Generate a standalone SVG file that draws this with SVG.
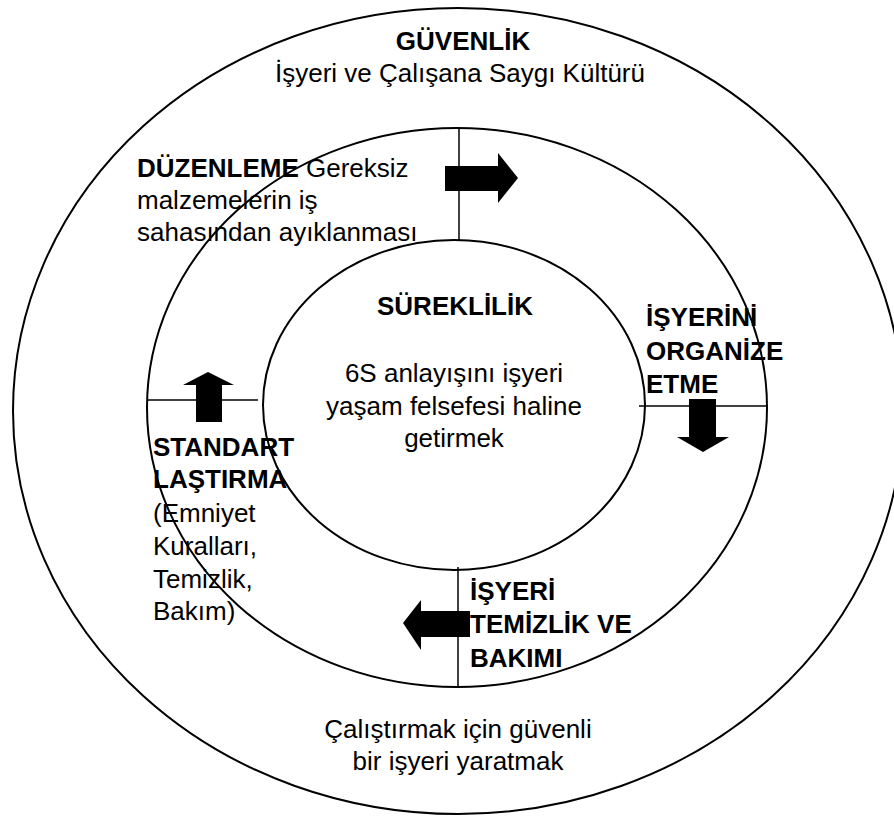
<svg xmlns="http://www.w3.org/2000/svg" width="894" height="816" viewBox="0 0 894 816">
  <style>
    .ring { fill: none; stroke: #000; stroke-width: 2; }
    .divider { stroke: #000; stroke-width: 1.5; fill: none; }
    .arrow { fill: #000; stroke: none; }
    text { font-family: "Liberation Sans", Arial, sans-serif; font-size: 26px; fill: #000; }
    .b { font-weight: bold; }
    .c { text-anchor: middle; }
  </style>
  <rect width="894" height="816" fill="#fff"/>

  <!-- outer ring: safety culture -->
  <g id="guvenlik">
    <ellipse class="ring" cx="458" cy="411" rx="445" ry="403"/>
    <text class="b c" x="463" y="50">GÜVENLİK</text>
    <text class="c" x="460" y="82">İşyeri ve Çalışana Saygı Kültürü</text>
    <text class="c" x="458" y="738">Çalıştırmak için güvenli</text>
    <text class="c" x="458" y="770">bir işyeri yaratmak</text>
  </g>

  <!-- middle ring -->
  <g id="calisma-halkasi">
    <ellipse class="ring" cx="457" cy="407.5" rx="310" ry="279.5"/>
  </g>

  <!-- inner circle: continuity -->
  <g id="sureklilik">
    <ellipse class="ring" cx="454" cy="405" rx="191" ry="165"/>
    <text class="b c" x="455" y="315">SÜREKLİLİK</text>
    <text class="c" x="454" y="382">6S anlayışını işyeri</text>
    <text class="c" x="454" y="415">yaşam felsefesi haline</text>
    <text class="c" x="454" y="447">getirmek</text>
  </g>

  <!-- step 1: sort -->
  <g id="duzenleme">
    <text x="137" y="177"><tspan class="b">DÜZENLEME</tspan> Gereksiz</text>
    <text x="137" y="209">malzemelerin iş</text>
    <text x="137" y="241">sahasından ayıklanması</text>
  </g>

  <!-- step 2: organise -->
  <g id="organize">
    <text class="b" x="646" y="326">İŞYERİNİ</text>
    <text class="b" x="646" y="360">ORGANİZE</text>
    <text class="b" x="646" y="393">ETME</text>
  </g>

  <!-- step 3: cleaning -->
  <g id="temizlik">
    <text class="b" x="470" y="600">İŞYERİ</text>
    <text class="b" x="470" y="633">TEMİZLİK VE</text>
    <text class="b" x="470" y="667">BAKIMI</text>
  </g>

  <!-- step 4: standardise -->
  <g id="standart">
    <text class="b" x="153" y="456">STANDART</text>
    <text class="b" x="153" y="488">LAŞTIRMA</text>
    <text x="153" y="522">(Emniyet</text>
    <text x="153" y="555">Kuralları,</text>
    <text x="153" y="588">Temizlik,</text>
    <text x="153" y="620">Bakım)</text>
  </g>

  <!-- dividers between the steps and the cycle arrows -->
  <g id="connectors">
    <line class="divider" x1="459" y1="128" x2="459" y2="240"/>
    <line class="divider" x1="639" y1="406" x2="767" y2="406"/>
    <line class="divider" x1="458" y1="567" x2="458" y2="687"/>
    <line class="divider" x1="147" y1="400" x2="258" y2="400"/>
    <polygon class="arrow" points="445,166 498,166 498,153 518,178 498,203 498,191 445,191"/>
    <polygon class="arrow" points="689,399 716,399 716,437 729,437 703,452 677,437 689,437"/>
    <polygon class="arrow" points="470,611 470,637 421,637 421,650 403,623 421,600 421,611"/>
    <polygon class="arrow" points="196,422 196,385 183,385 208,372 234,385 222,385 222,422"/>
  </g>
</svg>
